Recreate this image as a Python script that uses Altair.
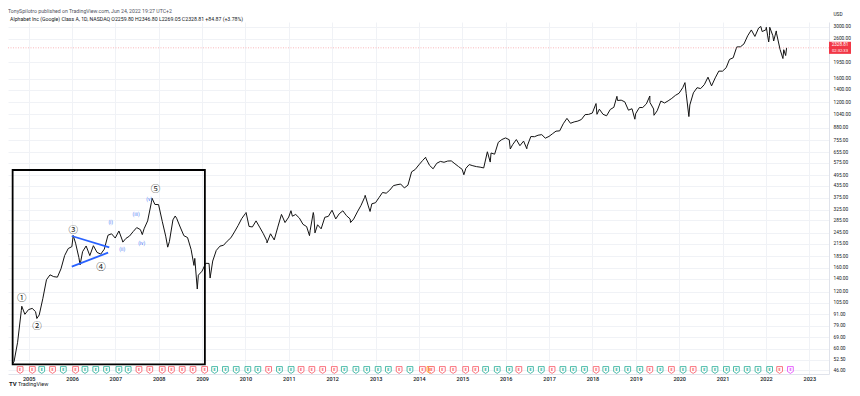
import calendar
import altair as alt
import pandas as pd

# ---------------- data ----------------
# Monthly closing prices (USD, split adjusted)
close_2004 = [51.2, 64.8, 95.3, 91.0, 96.4]  # Aug..Dec
close_2005 = [97.8, 94.0, 90.3, 110.0, 138.6, 147.1, 143.9, 143.0, 158.2, 186.1, 202.5, 207.4]
close_2006 = [216.3, 181.3, 195.0, 209.0, 185.9, 209.7, 193.3, 189.3, 201.0, 238.2, 242.4, 230.2]
close_2007 = [250.8, 224.7, 229.1, 235.7, 249.0, 261.4, 255.0, 257.6, 283.6, 353.5, 346.5, 345.7]
close_2008 = [282.2, 235.6, 220.2, 287.1, 292.9, 263.2, 236.9, 231.6, 200.3, 179.7, 146.5, 153.8]
close_2009 = [169.3, 169.0, 174.0, 198.0, 208.6, 210.8, 221.5, 230.8, 247.9, 268.1, 291.5, 310.0]
close_2010 = [265.0, 263.4, 283.6, 262.9, 242.8, 222.5, 242.4, 225.0, 262.9, 306.9, 277.9, 297.0]
close_2011 = [300.2, 306.7, 293.4, 272.1, 264.5, 253.2, 301.8, 270.5, 257.5, 296.3, 299.7, 323.0]
close_2012 = [290.4, 309.1, 320.6, 302.4, 290.4, 290.0, 316.2, 342.5, 377.3, 340.2, 349.2, 353.7]
close_2013 = [377.8, 400.6, 397.1, 412.3, 435.6, 440.2, 443.9, 423.5, 438.0, 515.3, 529.8, 560.4]
close_2014 = [590.5, 607.8, 557.3, 534.5, 571.7, 584.7, 578.6, 587.4, 588.4, 567.9, 549.1, 530.7]
close_2015 = [537.6, 562.6, 554.7, 548.8, 545.3, 540.0, 657.5, 647.8, 638.4, 737.4, 762.9, 778.0]
close_2016 = [761.4, 717.2, 762.9, 707.9, 748.9, 703.5, 791.3, 789.9, 804.1, 809.9, 775.9, 792.5]
close_2017 = [820.2, 844.9, 847.8, 924.5, 987.1, 929.7, 945.5, 955.2, 973.7, 1033.0, 1036.2, 1053.4]
close_2018 = [1182.2, 1103.9, 1037.1, 1018.6, 1100.0, 1129.2, 1227.2, 1231.8, 1207.1, 1090.6, 1109.7, 1045.0]
close_2019 = [1125.9, 1126.6, 1176.9, 1199.0, 1106.5, 1082.8, 1218.2, 1190.5, 1221.1, 1258.8, 1305.0, 1339.4]
close_2020 = [1432.8, 1339.3, 1162.0, 1346.7, 1433.5, 1418.1, 1488.0, 1629.5, 1465.6, 1616.1, 1754.4, 1752.6]
close_2021 = [1827.4, 2021.9, 2062.5, 2353.5, 2356.9, 2441.8, 2694.5, 2894.0, 2673.5, 2960.9, 2838.0, 2897.0]
close_2022 = [2706.1, 2697.8, 2781.4, 2282.2, 2275.2]  # Jan..May

# Intra-month swing highs / lows visible on the chart
swing_dates = ["2004-08-19", "2004-11-04", "2005-03-11", "2006-01-11", "2006-03-10",
               "2007-03-05", "2007-08-16", "2007-11-06", "2008-03-17", "2008-05-19",
               "2008-10-24", "2008-11-21", "2009-03-09", "2010-01-06", "2010-07-01",
               "2011-01-19", "2011-06-24", "2011-07-26", "2011-08-09", "2012-06-04",
               "2012-10-05", "2012-11-15", "2014-02-26", "2015-01-14", "2015-08-24",
               "2016-02-09", "2016-06-27", "2018-02-08", "2018-07-26", "2018-12-24",
               "2019-04-29", "2019-06-03", "2020-02-19", "2020-03-23", "2021-11-19",
               "2022-01-04", "2022-01-24", "2022-02-02", "2022-03-07", "2022-03-29",
               "2022-05-24", "2022-06-16", "2022-06-24"]
swing_prices = [50.1, 100.4, 86.5, 237.5, 166.0,
                219.0, 240.0, 373.7, 206.0, 301.0,
                165.0, 123.8, 141.5, 314.0, 217.0,
                321.0, 237.0, 314.0, 245.0, 278.0,
                387.0, 318.0, 615.0, 497.0, 580.0,
                680.0, 682.0, 1037.0, 1291.0, 977.0,
                1296.0, 1025.0, 1525.0, 1008.9, 3019.3,
                2990.0, 2500.0, 2990.0, 2530.0, 2860.0,
                2044.0, 2120.0, 2328.81]

last_price = 2328.81

# Price-scale tick labels
price_ticks = [46, 52.5, 60, 69, 79, 91, 105, 120, 140, 160, 185, 215, 245, 285, 325,
               375, 435, 495, 575, 655, 755, 880, 1040, 1200, 1400, 1600, 1950, 2600, 3000]
year_ticks = list(range(2005, 2024))

# Earnings events
earn_dates = ["2004-10-21",
              "2005-02-01", "2005-04-21", "2005-07-21", "2005-10-20",
              "2006-01-31", "2006-04-20", "2006-07-20", "2006-10-19",
              "2007-01-31", "2007-04-19", "2007-07-19", "2007-10-18",
              "2008-01-31", "2008-04-17", "2008-07-17", "2008-10-16",
              "2009-01-22", "2009-04-16", "2009-07-16", "2009-10-15",
              "2010-01-21", "2010-04-15", "2010-07-15", "2010-10-14",
              "2011-01-20", "2011-04-14", "2011-07-14", "2011-10-13",
              "2012-01-19", "2012-04-12", "2012-07-19", "2012-10-18",
              "2013-01-22", "2013-04-18", "2013-07-18", "2013-10-17",
              "2014-01-30", "2014-04-16", "2014-07-17", "2014-10-16",
              "2015-01-29", "2015-04-23", "2015-07-16", "2015-10-22",
              "2016-02-01", "2016-04-21", "2016-07-28", "2016-10-27",
              "2017-01-26", "2017-04-27", "2017-07-24", "2017-10-26",
              "2018-02-01", "2018-04-23", "2018-07-23", "2018-10-25",
              "2019-02-04", "2019-04-29", "2019-07-25", "2019-10-28",
              "2020-02-03", "2020-04-28", "2020-07-30", "2020-10-29",
              "2021-02-02", "2021-04-27", "2021-07-27", "2021-10-26",
              "2022-02-01", "2022-04-26", "2022-07-26"]
earn_codes = ("rrgrgrggggg" "rrrrrrr" "gggggr" "ggrrrr" "gggggrgr"
              "r" "rrrrgggrggrgggrggggrgrgrgggggggr" "n")
split_dates = ["2014-04-03"]

# Elliott-wave annotation
wave_labels = ["①", "②", "③", "④", "⑤"]
wave_dates = ["2004-11-03", "2005-03-13", "2006-01-11", "2006-09-03", "2007-12-05"]
wave_prices = [110.6, 78.7, 254.8, 162.5, 419.5]
sub_labels = ["(i)", "(ii)", "(iii)", "(iv)", "(v)"]
sub_dates = ["2006-11-23", "2007-02-28", "2007-06-25", "2007-08-11", "2007-10-14"]
sub_prices = [278.8, 202.2, 309.7, 217.6, 370.0]
tri_start = ["2005-12-30", "2005-12-30"]
tri_end = ["2006-11-11", "2006-11-01"]
tri_p1 = [236.0, 162.5]
tri_p2 = [205.7, 192.7]
box_dates = ["2004-08-19", "2009-01-24"]
box_prices = [49.5, 526.7]

header1 = "TonySpilotro published on TradingView.com, Jun 24, 2022 19:27 UTC+2"
header2 = "Alphabet Inc (Google) Class A, 1D, NASDAQ  O2259.80 H2346.80 L2269.05 C2328.81 +84.87 (+3.78%)"

# ---------------- tables ----------------
rows = []
for year, first, vals in [(2004, 8, close_2004), (2005, 1, close_2005), (2006, 1, close_2006),
                          (2007, 1, close_2007), (2008, 1, close_2008), (2009, 1, close_2009),
                          (2010, 1, close_2010), (2011, 1, close_2011), (2012, 1, close_2012),
                          (2013, 1, close_2013), (2014, 1, close_2014), (2015, 1, close_2015),
                          (2016, 1, close_2016), (2017, 1, close_2017), (2018, 1, close_2018),
                          (2019, 1, close_2019), (2020, 1, close_2020), (2021, 1, close_2021),
                          (2022, 1, close_2022)]:
    for i, v in enumerate(vals):
        m = first + i
        d = calendar.monthrange(year, m)[1]
        rows.append({"date": f"{year}-{m:02d}-{d:02d}", "price": v})
for d, p in zip(swing_dates, swing_prices):
    rows.append({"date": d, "price": p})
price_df = pd.DataFrame(rows).sort_values("date").reset_index(drop=True)

code_name = {"r": "miss", "g": "beat", "n": "next"}
earn_df = pd.DataFrame({"date": earn_dates, "kind": [code_name[c] for c in earn_codes]})
split_df = pd.DataFrame({"date": split_dates, "kind": ["split"]})
events_df = pd.concat([split_df, earn_df], ignore_index=True)

wave_df = pd.DataFrame({"date": wave_dates, "price": wave_prices, "label": wave_labels})
sub_df = pd.DataFrame({"date": sub_dates, "price": sub_prices, "label": sub_labels})
tri_df = pd.DataFrame({"date": tri_start, "date2": tri_end, "price": tri_p1, "price2": tri_p2})
box_df = pd.DataFrame({"date": [box_dates[0]], "date2": [box_dates[1]],
                       "price": [box_prices[0]], "price2": [box_prices[1]]})

# ---------------- scales / axes ----------------
VIEW_W = 821
xs = alt.Scale(domain=[alt.DateTime(year=2004, month=7, date=11),
                       alt.DateTime(year=2023, month=6, date=16)])
ys = alt.Scale(type="log", domain=[44.03, 3188], nice=False, zero=False)

GRID = "#f0f2f6"
xaxis = alt.Axis(values=[alt.DateTime(year=y, month=1, date=1) for y in year_ticks],
                 format="%Y", labelFontSize=5.5, labelColor="#131722", labelPadding=2,
                 ticks=False, tickSize=0, domainColor="#e0e3eb", gridColor=GRID,
                 labelFont="Roboto", labelFontWeight=500, title=None, labelOverlap=False)
yaxis = alt.Axis(orient="right", values=price_ticks, format=".2f", labelFontSize=4.8,
                 labelColor="#131722", labelPadding=4, ticks=False, tickSize=0,
                 labelAlign="left", labelBaseline="middle", labelOverlap=False,
                 labelBound=False, domainColor="#e0e3eb", gridColor=GRID, labelFont="Roboto",
                 title="USD", titleAngle=0, titleAlign="left", titleBaseline="middle",
                 titleX=4, titleY=-8, titleFontSize=4.8, titleFontWeight="normal",
                 titleColor="#131722", titleFont="Roboto")


def X(field="date"):
    return alt.X(f"{field}:T", scale=xs, axis=xaxis, title=None)


def Y(field="price"):
    return alt.Y(f"{field}:Q", scale=ys, axis=yaxis, title=None)


price_line = alt.Chart(price_df).mark_line(color="#131313", strokeWidth=1.0).encode(
    x=X(), y=Y())

box = alt.Chart(box_df).mark_rect(fillOpacity=0, stroke="#000000", strokeWidth=1.8).encode(
    x=X(), x2="date2:T", y=Y(), y2="price2:Q")

tri = alt.Chart(tri_df).mark_rule(color="#2962ff", strokeWidth=1.8).encode(
    x=X(), x2="date2:T", y=Y(), y2="price2:Q")

waves = alt.Chart(wave_df).mark_text(fontSize=9.5, color="#1e1f24", font="Noto Sans CJK JP",
                                     baseline="middle").encode(x=X(), y=Y(), text="label:N")

subs = alt.Chart(sub_df).mark_text(fontSize=5, color="#4c7cf5", font="Roboto",
                                   baseline="middle").encode(x=X(), y=Y(), text="label:N")

icon_colors = alt.Scale(domain=["miss", "beat", "next", "split"],
                        range=["#f7525f", "#22ab94", "#e040fb", "#ff9800"])
tag = "M-0.85,-1L0.85,-1L0.85,0.45L0,1L-0.85,0.45Z"
icons = alt.Chart(events_df).mark_point(shape=tag, size=46, filled=False, fill="white",
                                        fillOpacity=1, strokeWidth=0.8, opacity=1).encode(
    x=X(), y=alt.value(348), color=alt.Color("kind:N", scale=icon_colors, legend=None))
icon_e = alt.Chart(events_df).mark_text(text="E", fontSize=3.6, font="Roboto",
                                        fontWeight="bold", baseline="middle").encode(
    x=X(), y=alt.value(347.6), color=alt.Color("kind:N", scale=icon_colors, legend=None))

BOX_X = VIEW_W + 11
last_rule = alt.Chart(alt.Data(values=[{}])).mark_rule(
    color="#f7a4ab", strokeWidth=0.8, strokeDash=[1, 1.5]).encode(
    y=alt.YDatum(last_price, type="quantitative", scale=ys, axis=yaxis))
last_box = alt.Chart(alt.Data(values=[{}])).mark_point(
    shape="M-1,-0.55L1,-0.55L1,0.55L-1,0.55Z", size=484, filled=True, color="#f23645",
    opacity=1).encode(x=alt.value(BOX_X),
                      y=alt.YDatum(last_price, type="quantitative", scale=ys, axis=yaxis))
last_txt = alt.Chart(alt.Data(values=[{}])).mark_text(
    text=f"{last_price:.2f}", fontSize=4.6, color="white", font="Roboto", dy=-2.5,
    baseline="middle").encode(
    x=alt.value(BOX_X), y=alt.YDatum(last_price, type="quantitative", scale=ys, axis=yaxis))
last_cd = alt.Chart(alt.Data(values=[{}])).mark_text(
    text="02:32:33", fontSize=4.2, color="white", font="Roboto", dy=2.8,
    baseline="middle").encode(
    x=alt.value(BOX_X), y=alt.YDatum(last_price, type="quantitative", scale=ys, axis=yaxis))

head1 = alt.Chart(alt.Data(values=[{}])).mark_text(
    text=header1, fontSize=5.2, color="#50535e", font="Roboto", align="left",
    baseline="middle").encode(x=alt.value(0), y=alt.value(-11))
head2 = alt.Chart(alt.Data(values=[{}])).mark_text(
    text=header2, fontSize=5.2, color="#131722", font="Roboto", align="left",
    baseline="middle").encode(x=alt.value(2), y=alt.value(-3))
logo1 = alt.Chart(alt.Data(values=[{}])).mark_text(
    text="TV", fontSize=6, color="#131722", font="Roboto", fontWeight="bold",
    align="left", baseline="middle").encode(x=alt.value(1), y=alt.value(362))
logo2 = alt.Chart(alt.Data(values=[{}])).mark_text(
    text="TradingView", fontSize=5.5, color="#131722", font="Roboto", align="left",
    baseline="middle").encode(x=alt.value(10), y=alt.value(362))

chart = alt.layer(
    price_line, box, tri, waves, subs, icons, icon_e, last_rule, last_box, last_txt,
    last_cd, head1, head2, logo1, logo2
).properties(
    width=VIEW_W, height=352,
    autosize=alt.AutoSizeParams(type="none"),
    padding={"left": 0, "top": 14, "right": 23, "bottom": 14},
    background="white",
).configure_view(stroke=None)

chart.save("out.html", embed_options={"renderer": "svg", "actions": False})
